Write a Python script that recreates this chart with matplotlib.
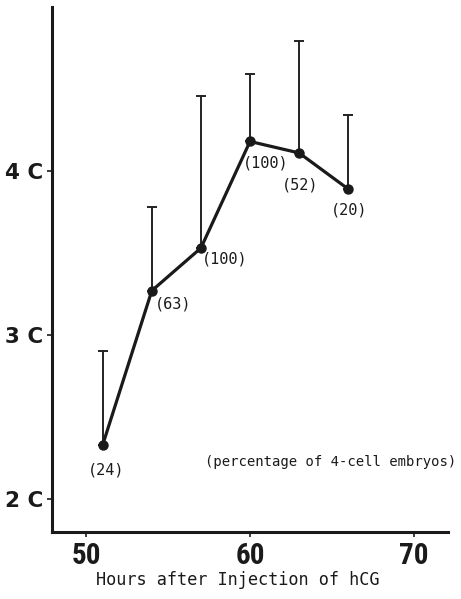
import numpy as np
import matplotlib
matplotlib.use("Agg")
import matplotlib.pyplot as plt

# Hours after hCG, mean DNA content (in C units) and upper SD
hours = [51, 54, 57, 60, 63, 66]
dna_c = [2.33, 3.27, 3.53, 4.18, 4.11, 3.89]
upper = [2.90, 3.78, 4.46, 4.59, 4.79, 4.34]
pct_labels = ["(24)", "(63)", "(100)", "(100)", "(52)", "(20)"]
# label offsets in points (dx, dy) from each point
label_offsets = [(2.5, -18), (15, -9.6), (16.8, -8), (11.2, -15.8), (0.7, -22.8), (0.7, -15)]

ytick_vals = [2, 3, 4]
ytick_labels = ["2 C", "3 C", "4 C"]
xtick_vals = [50, 60, 70]

mono = "DejaVu Sans Mono"

fig = plt.figure(figsize=(4.61, 5.99), dpi=100)
ax = fig.add_axes([52 / 461, 67.3 / 599, 396 / 461, 524.7 / 599])

err_hi = np.array(upper) - np.array(dna_c)
ax.errorbar(hours, dna_c, yerr=[np.zeros(len(hours)), err_hi], fmt="none",
            ecolor="#222222", elinewidth=1.4, capsize=3.5, capthick=1.4)
ax.plot(hours, dna_c, color="#1a1a1a", lw=2.3, marker="o", ms=6.5,
        mfc="#1a1a1a", mec="#1a1a1a")

for x, y, lab, (dx, dy) in zip(hours, dna_c, pct_labels, label_offsets):
    ax.annotate(lab, (x, y), xytext=(dx, dy), textcoords="offset points",
                ha="center", va="center", fontsize=11,
                family=mono, color="#1a1a1a")

ax.text(72.6, 2.226, "(percentage of 4-cell embryos)", ha="right", va="center",
        fontsize=10, family=mono, color="#1a1a1a", clip_on=False)

ax.set_xlim(47.9, 72.1)
ax.set_ylim(1.8, 5.0)
ax.set_xticks(xtick_vals)
ax.set_xticklabels([str(v) for v in xtick_vals], family=["Roboto Condensed", "DejaVu Sans"],
                   fontsize=21, fontweight="bold")
ax.set_yticks(ytick_vals)
ax.set_yticklabels(ytick_labels, family="DejaVu Sans", fontsize=15.5, fontweight="bold")
ax.tick_params(direction="out", length=3.5, width=1.2, colors="#1a1a1a", pad=3)
ax.tick_params(axis="x", pad=4)

for side in ["top", "right"]:
    ax.spines[side].set_visible(False)
for side in ["left", "bottom"]:
    ax.spines[side].set_linewidth(2.2)
    ax.spines[side].set_color("#1a1a1a")

ax.set_xlabel("Hours after Injection of hCG", family=mono,
              fontsize=12.2, color="#1a1a1a")
ax.xaxis.set_label_coords(0.468, -0.075)

fig.savefig("out.png", dpi=100)
